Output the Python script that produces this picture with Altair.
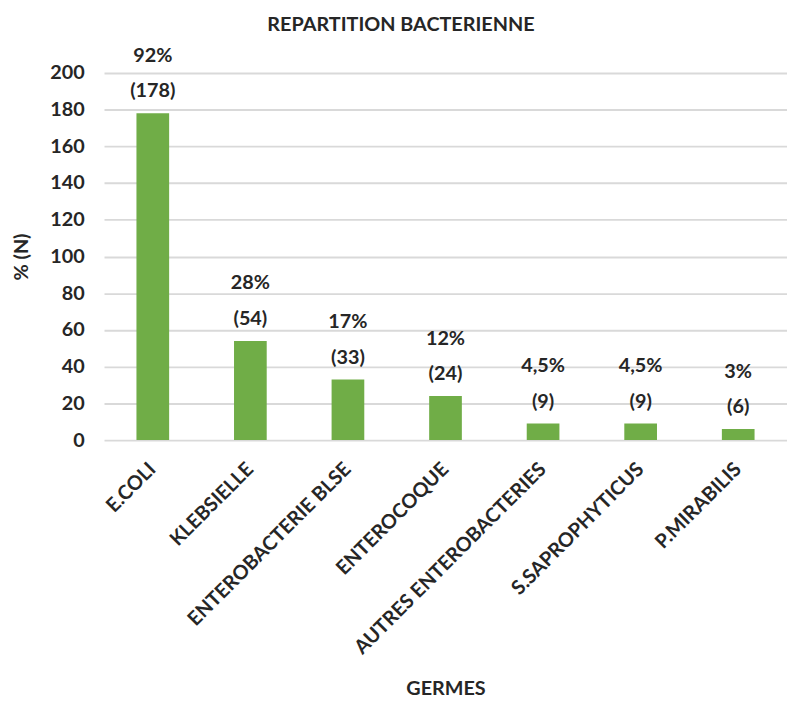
import altair as alt
import pandas as pd

germes = ["E.COLI", "KLEBSIELLE", "ENTEROBACTERIE BLSE", "ENTEROCOQUE",
          "AUTRES ENTEROBACTERIES", "S.SAPROPHYTICUS", "P.MIRABILIS"]
counts = [178, 54, 33, 24, 9, 9, 6]
percents = ["92%", "28%", "17%", "12%", "4,5%", "4,5%", "3%"]
y_ticks = [0, 20, 40, 60, 80, 100, 120, 140, 160, 180, 200]

df = pd.DataFrame({
    "germe": germes,
    "n": counts,
    "pct": percents,
    "cnt": [f"({n})" for n in counts],
})

FONT = "Lato"
TXT = "#262626"
FS = 20

x = alt.X("germe:N", sort=germes,
          scale=alt.Scale(paddingInner=0.665, paddingOuter=0.3325),
          axis=alt.Axis(title="GERMES", labelAngle=-45, labelAlign="right",
                        labelBaseline="middle", labelFontSize=FS, labelFont=FONT,
                        labelFontWeight="bold", labelColor=TXT, ticks=False,
                        domain=False, labelPadding=26, labelLimit=0,
                        titleFont=FONT, titleFontSize=FS, titleFontWeight="bold",
                        titleColor=TXT, titlePadding=41))
y = alt.Y("n:Q", scale=alt.Scale(domain=[0, 200]),
          axis=alt.Axis(title="% (N)", values=y_ticks, tickCount=11,
                        labelOverlap=False,
                        labelFontSize=FS, labelFont=FONT, labelFontWeight="bold",
                        labelColor=TXT, ticks=False, domain=False, labelPadding=20,
                        gridColor="#d9d9d9", gridWidth=2, titleFont=FONT,
                        titleFontSize=FS, titleFontWeight="bold", titleColor=TXT,
                        titlePadding=18))

base = alt.Chart(df).encode(x=x, y=y)
bars = base.mark_bar(color="#70ad47")
txt_cnt = base.mark_text(baseline="bottom", dy=-12, fontSize=FS, font=FONT,
                         fontWeight="bold", color=TXT).encode(text="cnt:N")
txt_pct = base.mark_text(baseline="bottom", dy=-48, fontSize=FS, font=FONT,
                         fontWeight="bold", color=TXT).encode(text="pct:N")

chart = (bars + txt_cnt + txt_pct).properties(
    width=690, height=371,
    title=alt.TitleParams("REPARTITION BACTERIENNE", font=FONT, fontSize=FS,
                          fontWeight="bold", color=TXT, anchor="middle",
                          dx=-45, offset=11),
    autosize=alt.AutoSizeParams(type="none"),
    padding={"left": 97, "top": 62, "right": 0, "bottom": 260},
).configure_view(stroke=None)

chart.save("out.html", embed_options={"renderer": "svg", "actions": False})
